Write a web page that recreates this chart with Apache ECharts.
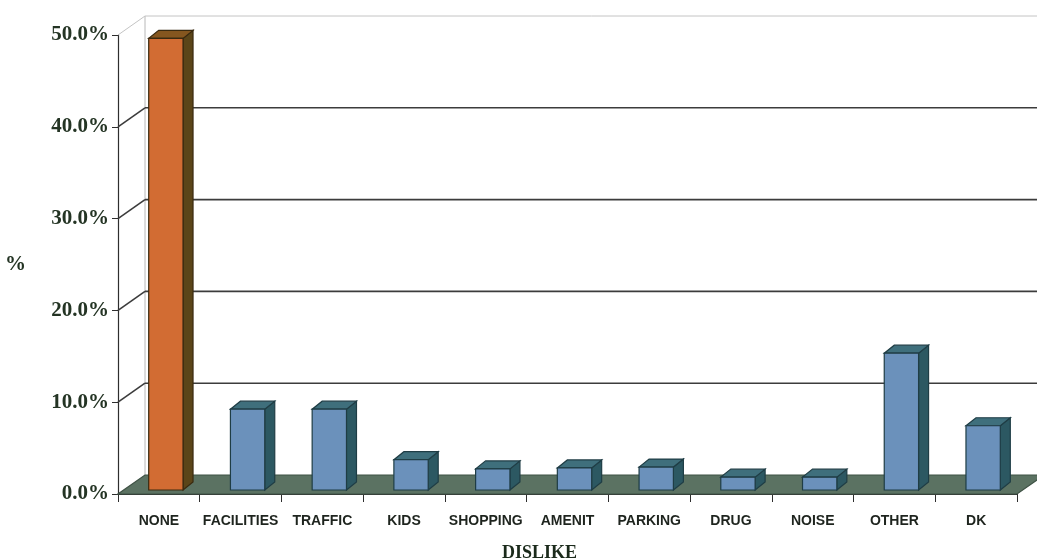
<!DOCTYPE html>
<html>
<head>
<meta charset="utf-8">
<script src="https://cdn.jsdelivr.net/npm/echarts@6/dist/echarts.min.js"></script>
<style>html,body{margin:0;padding:0;background:#fff;}#c{width:1037px;height:560px;}</style>
</head>
<body>
<div id="c"></div>
<script>
const categories = ['NONE','FACILITIES','TRAFFIC','KIDS','SHOPPING','AMENIT','PARKING','DRUG','NOISE','OTHER','DK'];
const values = [49.2, 8.8, 8.8, 3.3, 2.3, 2.4, 2.5, 1.4, 1.4, 14.9, 7.0];
const ticks = [0, 10, 20, 30, 40, 50];

const WALL = [27, -19];   // depth of the 3D box
const FRONT = [7, -4];    // bar front offset inside the box
const BDEP = [10, -8];    // bar depth

const chart = echarts.init(document.getElementById('c'), null, {renderer: 'canvas'});

function wallItem(params, api) {
  const cs = params.coordSys;
  const v = api.value(0);
  const y = api.coord([0, v])[1];
  const x0 = cs.x, x1 = cs.x + cs.width;
  const dx = WALL[0], dy = WALL[1];
  const children = [];
  if (v === 0) {
    const yTop = api.coord([0, ticks[ticks.length - 1]])[1];
    children.push({type: 'line', shape: {x1: x0 + dx, y1: y + dy, x2: x0 + dx, y2: yTop + dy},
      style: {stroke: '#b8b8b8', lineWidth: 1}});
    children.push({type: 'polygon', shape: {points: [[x0, y], [x1, y], [x1 + dx, y + dy], [x0 + dx, y + dy]]},
      style: {fill: '#5b7262', stroke: '#3f5245', lineWidth: 1.2}});
  } else {
    const top = v === ticks[ticks.length - 1];
    const col = top ? '#c4c4c4' : '#3c3c3c';
    const lw = top ? 1 : 1.6;
    children.push({type: 'line', shape: {x1: x0, y1: y, x2: x0 + dx, y2: y + dy}, style: {stroke: col, lineWidth: lw}});
    children.push({type: 'line', shape: {x1: x0 + dx, y1: y + dy, x2: x1 + dx + 10, y2: y + dy}, style: {stroke: col, lineWidth: lw}});
  }
  return {type: 'group', children};
}

function barItem(params, api) {
  const idx = api.value(0);
  const v = api.value(1);
  const base = api.coord([idx, 0]);
  const top = api.coord([idx, v]);
  const w = api.size([1, 0])[0] * 0.42;
  const xl = base[0] - w / 2 + FRONT[0];
  const xr = xl + w;
  const yb = base[1] + FRONT[1];
  const yt = top[1] + FRONT[1];
  const dx = BDEP[0], dy = BDEP[1];
  const orange = idx === 0;
  const cFront = orange ? '#d26c33' : '#6b91bb';
  const cSide = orange ? '#5b4519' : '#2c5862';
  const cTop = orange ? '#85561f' : '#3f6f7c';
  const edge = orange ? '#3a2a10' : '#1f3d45';
  return {type: 'group', children: [
    {type: 'polygon', shape: {points: [[xr, yb], [xr + dx, yb + dy], [xr + dx, yt + dy], [xr, yt]]},
      style: {fill: cSide, stroke: edge, lineWidth: 1.2}},
    {type: 'polygon', shape: {points: [[xl, yt], [xr, yt], [xr + dx, yt + dy], [xl + dx, yt + dy]]},
      style: {fill: cTop, stroke: edge, lineWidth: 1.2}},
    {type: 'rect', shape: {x: xl, y: yt, width: w, height: yb - yt},
      style: {fill: cFront, stroke: edge, lineWidth: 1.2}}
  ]};
}

chart.setOption({
  animation: false,
  backgroundColor: '#ffffff',
  grid: {left: 118, right: 20, top: 35, bottom: 66, containLabel: false, outerBoundsMode: 'none'},
  xAxis: {
    type: 'category',
    data: categories,
    boundaryGap: true,
    axisLine: {show: true, lineStyle: {color: '#2e2e2e', width: 1.2}},
    axisTick: {show: true, length: 8, alignWithLabel: false, lineStyle: {color: '#2e2e2e'}},
    axisLabel: {margin: 20, color: '#1e241e', fontFamily: '"Liberation Sans Narrow", "Arial Narrow", "Liberation Sans", sans-serif',
      fontSize: 14, fontWeight: 'bold', interval: 0},
    name: 'DISLIKE',
    nameLocation: 'middle',
    nameGap: 50,
    nameTextStyle: {fontFamily: '"Liberation Serif", "Times New Roman", serif', fontWeight: 'bold', fontSize: 18,
      color: '#1b2a1b', padding: [0, 56, 0, 0]}
  },
  yAxis: {
    type: 'value',
    min: 0, max: 50, interval: 10,
    axisLine: {show: true, lineStyle: {color: '#2e2e2e', width: 1.2}},
    axisTick: {show: true, length: 6, lineStyle: {color: '#2e2e2e'}},
    splitLine: {show: false},
    axisLabel: {margin: 9, color: '#243424', fontFamily: '"Liberation Serif", "Times New Roman", serif',
      fontSize: 21, fontWeight: 'bold', formatter: v => v.toFixed(1) + '%'},
    name: '%',
    nameLocation: 'middle',
    nameRotate: 0,
    nameGap: 92,
    nameTextStyle: {fontFamily: '"Liberation Serif", serif', fontWeight: 'bold', fontSize: 21, color: '#243424'}
  },
  series: [
    {type: 'custom', renderItem: wallItem, data: ticks.map(t => [t]), encode: {y: 0}, z: 1, clip: false, silent: true},
    {type: 'custom', renderItem: barItem, data: values.map((v, i) => [i, v]), encode: {x: 0, y: 1}, z: 3, clip: false}
  ]
});
</script>
</body>
</html>
